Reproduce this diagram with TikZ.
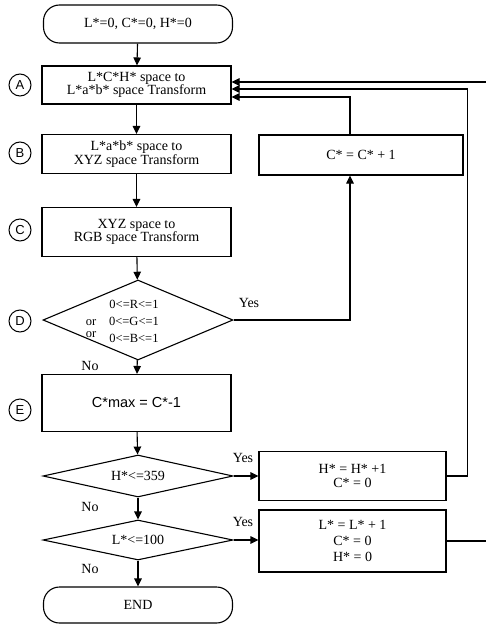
\documentclass[tikz,border=0pt]{standalone}
\usepackage{fontspec}
\setmainfont{Liberation Serif}
\newfontfamily\arialfont{Liberation Sans}
\usetikzlibrary{arrows.meta,shapes.geometric,calc}
\begin{document}
\begin{tikzpicture}[x=1pt,y=-1pt,line width=1.1pt,
  >={Triangle[length=8pt,width=7.5pt]},
  txt/.style={font=\fontsize{14}{13.5}\selectfont},
  dtxt/.style={font=\fontsize{12.5}{12}\selectfont},
  box/.style={draw,rectangle,minimum width=189pt,inner sep=0pt,align=center,txt},
  term/.style={box,rounded corners=16pt},
  dec/.style={draw,diamond,aspect=4.5,inner sep=0pt,minimum width=190pt,txt},
  circ/.style={draw,circle,minimum size=22pt,inner sep=0pt,line width=1pt,font=\arialfont\fontsize{13}{13}\selectfont},
  lbl/.style={txt,inner sep=0pt}]
\useasboundingbox (0,0) rectangle (486,626);
% main column
\node[term,minimum height=38pt] (start) at (138,24) {L*=0, C*=0, H*=0};
\node[box,minimum height=38pt] (A) at (136.5,85) {L*C*H* space to\\L*a*b* space Transform};
\node[box,minimum height=39pt] (B) at (136.5,154) {L*a*b* space to\\XYZ space Transform};
\node[box,minimum height=49pt] (C) at (136.5,232) {XYZ space to\\RGB space Transform};
\node[draw,diamond,aspect=2.4,inner sep=0pt,minimum width=190pt,minimum height=80pt] (D) at (138,320) {};
\node[lbl,dtxt] (d1) at (134,304) {0<=R<=1};
\node[lbl,dtxt] (d2) at (134,321) {0<=G<=1};
\node[lbl,dtxt] (d3) at (134,338) {0<=B<=1};
\node[lbl,dtxt] (or1) at (91,323) {or};
\node[lbl,dtxt] (or2) at (91,335) {or};
\node[box,minimum height=57pt,font=\arialfont\fontsize{14.5}{14}\selectfont] (E) at (136.5,403) {C*max = C*-1};
\node[dec,minimum height=42pt] (H) at (138,476) {H*<=359};
\node[dec,minimum height=40pt] (L) at (138,540) {L*<=100};
\node[term,minimum height=36pt] (END) at (138,605) {END};
% right column
\node[box,minimum width=204pt,minimum height=40pt] (Cinc) at (361,155) {C* = C* + 1};
\node[box,minimum width=187pt,minimum height=49pt] (Hinc) at (352.5,476) {H* = H* +1\\C* = 0};
\node[box,minimum width=187pt,minimum height=62pt,font=\fontsize{14}{16}\selectfont] (Linc) at (352.5,541) {L* = L* + 1\\C* = 0\\H* = 0};
% circled letters
\node[circ] (cA) at (20,85) {A};
\node[circ] (cB) at (20,153) {B};
\node[circ] (cC) at (20,230) {C};
\node[circ] (cD) at (20,321) {D};
\node[circ] (cE) at (20,410) {E};
% labels
\node[lbl] (yD) at (249,303) {Yes};
\node[lbl] (yH) at (243,458) {Yes};
\node[lbl] (yL) at (243,522) {Yes};
\node[lbl] (nD) at (90,366) {No};
\node[lbl] (nH) at (90,507) {No};
\node[lbl] (nL) at (90,569) {No};
% connectors
\draw[->] (start) -- (A);
\draw[->] (A) -- (B);
\draw[->] (B) -- (C);
\draw[->] (C) -- (D);
\draw[->] (D) -- (E);
\draw[->] (E) -- (H);
\draw[->] (H) -- (L);
\draw[->] (L) -- (END);
\coordinate (cx) at (350,0);
\draw[->] (D.east) -| (cx |- Cinc.south);
\draw[->] (cx |- Cinc.north) |- ($(A.east)+(0,12)$);
\draw[->] (H.east) -- (Hinc.west |- H.east);
\draw[->] (Hinc.east) -- ++(21,0) |- ($(A.east)+(0,4)$);
\draw[->] (L.east) -- (Linc.west |- L.east);
\draw[->] (Linc.east) -- ++(41,0) |- ($(A.east)+(0,-3)$);
\end{tikzpicture}
\end{document}
